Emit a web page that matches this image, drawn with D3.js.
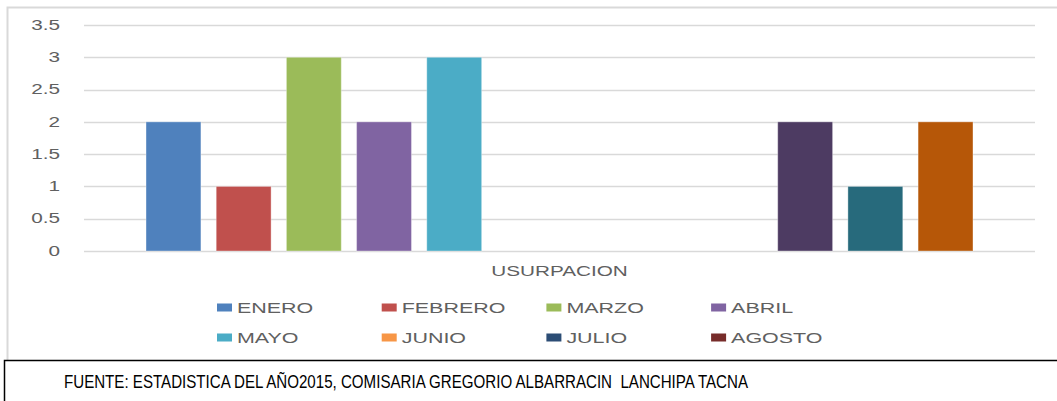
<!DOCTYPE html>
<html>
<head>
<meta charset="utf-8">
<script src="https://cdn.jsdelivr.net/npm/d3@7"></script>
<style>
  body { margin: 0; background: #fff; }
  svg { display: block; }
</style>
</head>
<body>
<svg id="chart" width="1057" height="401"></svg>
<script>
const categories = ['USURPACION'];
const months = ['ENERO', 'FEBRERO', 'MARZO', 'ABRIL', 'MAYO', 'JUNIO',
  'JULIO', 'AGOSTO', 'SEPTIEMBRE', 'OCTUBRE', 'NOVIEMBRE', 'DICIEMBRE'];
const values = [2, 1, 3, 2, 3, 0, 0, 0, 0, 2, 1, 2];
const yTicks = [0, 0.5, 1, 1.5, 2, 2.5, 3, 3.5];
const legendMonths = months.slice(0, 8);
const footerText = 'FUENTE: ESTADISTICA DEL AÑO2015, COMISARIA GREGORIO ALBARRACIN  LANCHIPA TACNA';

const colors = ['#4F81BD', '#C0504D', '#9BBB59', '#8064A2', '#4BACC6', '#F79646',
  '#2C4D75', '#772C2A', '#5F7530', '#4D3B62', '#276A7C', '#B65708'];

const W = 1057, H = 401;
const plot = { left: 84, right: 1035, top: 25, bottom: 251 };
const stretch = 1.48; // source image is horizontally stretched
const font = "'Liberation Sans', Arial, sans-serif";

const svg = d3.select('#chart');

// chart frame
svg.append('rect')
  .attr('x', 7.5).attr('y', 7.5)
  .attr('width', W + 10).attr('height', 360)
  .attr('fill', '#fff')
  .attr('stroke', '#d9d9d9')
  .attr('stroke-width', 2);

const y = d3.scaleLinear().domain([0, 3.5]).range([plot.bottom, plot.top]);

const x0 = d3.scaleBand()
  .domain(categories)
  .range([plot.left, plot.right])
  .paddingOuter(0.075);

const x1 = d3.scaleBand()
  .domain(months)
  .range([0, x0.bandwidth()])
  .paddingInner(0.218)
  .paddingOuter(0);

const color = d3.scaleOrdinal().domain(months).range(colors);

// gridlines
svg.append('g')
  .selectAll('line')
  .data(yTicks)
  .join('line')
  .attr('x1', plot.left).attr('x2', plot.right)
  .attr('y1', d => Math.round(y(d)) + 0.5)
  .attr('y2', d => Math.round(y(d)) + 0.5)
  .attr('stroke', '#d9d9d9')
  .attr('stroke-width', 1.5);

// y tick labels
svg.append('g')
  .selectAll('text')
  .data(yTicks)
  .join('text')
  .attr('text-anchor', 'end')
  .attr('dominant-baseline', 'central')
  .attr('transform', d => `translate(60,${y(d)}) scale(${stretch},1)`)
  .attr('font-family', font)
  .attr('font-size', 14)
  .attr('fill', '#606060')
  .text(d => d);

// bars
const series = months.map((m, i) => ({ month: m, value: values[i] }));
svg.append('g')
  .selectAll('rect')
  .data(series.filter(d => d.value > 0))
  .join('rect')
  .attr('x', d => x0(categories[0]) + x1(d.month))
  .attr('y', d => y(d.value))
  .attr('width', x1.bandwidth())
  .attr('height', d => y(0) - y(d.value))
  .attr('fill', d => color(d.month))
  .attr('stroke', '#fff')
  .attr('stroke-opacity', 0.35)
  .attr('stroke-width', 1);

// category label
svg.append('text')
  .attr('text-anchor', 'middle')
  .attr('dominant-baseline', 'central')
  .attr('transform', `translate(${x0(categories[0]) + x0.bandwidth() / 2},271) scale(${stretch},1)`)
  .attr('font-family', font)
  .attr('font-size', 14)
  .attr('fill', '#606060')
  .text(categories[0]);

// legend
const legendX = d3.scaleLinear().domain([0, 1]).range([217, 381.7]);
const legendY = d3.scaleLinear().domain([0, 1]).range([307.5, 337.5]);
const legend = svg.append('g')
  .selectAll('g')
  .data(legendMonths)
  .join('g')
  .attr('transform', (d, i) => `translate(${legendX(i % 4)},${legendY(Math.floor(i / 4))})`);

legend.append('rect')
  .attr('x', 0).attr('y', -4)
  .attr('width', 15).attr('height', 8)
  .attr('fill', d => color(d));

legend.append('text')
  .attr('dominant-baseline', 'central')
  .attr('transform', `translate(20,0) scale(${stretch},1)`)
  .attr('font-family', font)
  .attr('font-size', 14.5)
  .attr('fill', '#606060')
  .text(d => d);

// footer box
svg.append('rect')
  .attr('x', 4.5).attr('y', 360.5)
  .attr('width', W + 10).attr('height', 60)
  .attr('fill', '#fff')
  .attr('stroke', '#000')
  .attr('stroke-width', 1.5);

svg.append('text')
  .attr('x', 64).attr('y', 387.5)
  .attr('font-family', "'Liberation Sans Narrow', 'Liberation Sans', Arial, sans-serif")
  .attr('font-size', 17.5)
  .attr('fill', '#000')
  .attr('textLength', 684)
  .attr('lengthAdjust', 'spacingAndGlyphs')
  .style('white-space', 'pre')
  .text(footerText);
</script>
</body>
</html>
